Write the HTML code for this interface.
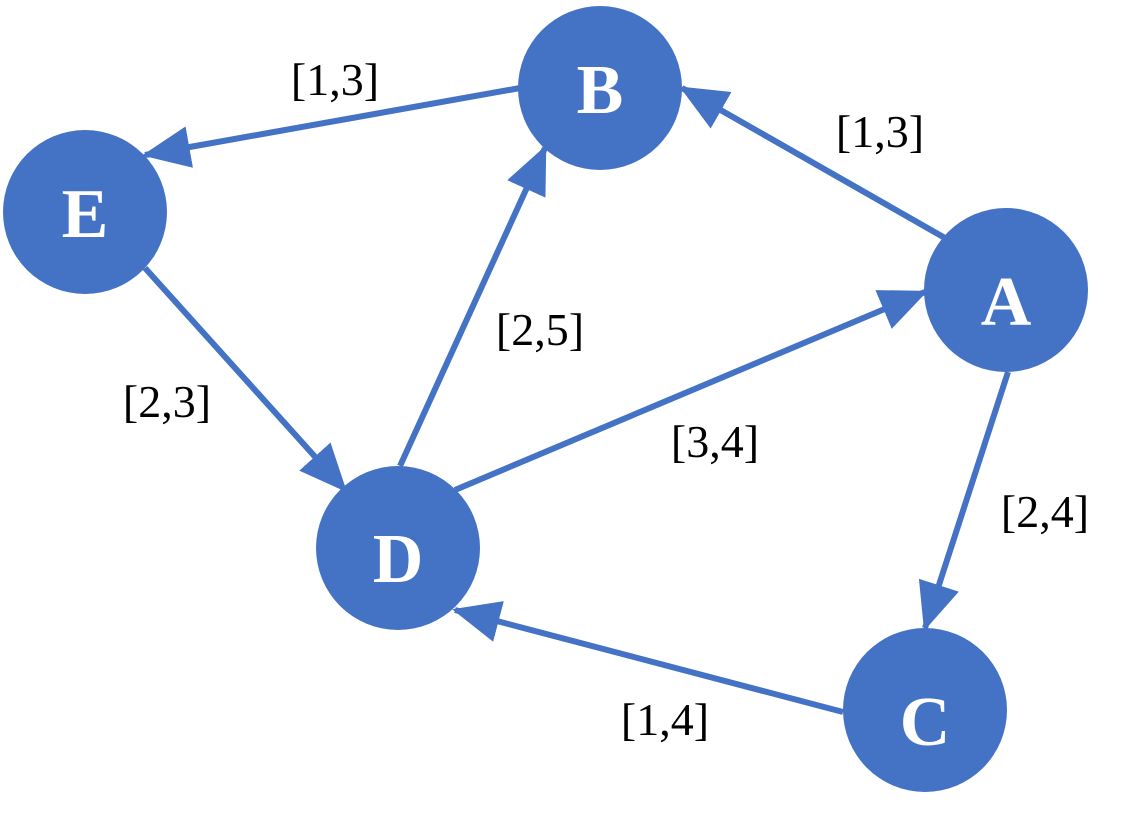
<!DOCTYPE html>
<html><head><meta charset="utf-8"><style>
html,body{margin:0;padding:0;background:#fff;}
svg{display:block;}
.l{font-family:"Liberation Serif",serif;font-size:46px;fill:#000;}
.n{font-family:"Liberation Serif",serif;font-size:70px;font-weight:bold;fill:#fff;}
</style></head><body>
<svg width="1126" height="824" viewBox="0 0 1126 824" xmlns="http://www.w3.org/2000/svg">
<defs>
<marker id="ar" markerWidth="8" markerHeight="7" refX="7.5" refY="3.5" orient="auto" markerUnits="strokeWidth">
<path d="M0,0 L8,3.5 L0,7 z" fill="#4472C4"/>
</marker>
</defs>
<g stroke="#4472C4" stroke-width="6" fill="none" marker-end="url(#ar)">
<line x1="520" y1="88" x2="145" y2="155"/>
<line x1="945" y1="238" x2="682" y2="88"/>
<line x1="400" y1="466" x2="545" y2="148"/>
<line x1="145" y1="268" x2="345" y2="490"/>
<line x1="455" y1="490" x2="925" y2="292"/>
<line x1="1008" y1="372" x2="925" y2="628"/>
<line x1="843" y1="712" x2="455" y2="610"/>
</g>
<g fill="#4472C4">
<circle cx="600" cy="88" r="82"/>
<circle cx="85" cy="212" r="82"/>
<circle cx="1006" cy="290" r="82"/>
<circle cx="398" cy="548" r="82"/>
<circle cx="925" cy="710" r="82"/>
</g>
<g class="n" text-anchor="middle">
<text x="600" y="113">B</text>
<text x="85" y="237">E</text>
<text x="1006" y="325">A</text>
<text x="398" y="582">D</text>
<text x="925" y="745">C</text>
</g>
<g class="l" text-anchor="middle">
<text x="335" y="95">[1,3]</text>
<text x="880" y="147">[1,3]</text>
<text x="540" y="345">[2,5]</text>
<text x="167" y="417">[2,3]</text>
<text x="715" y="457">[3,4]</text>
<text x="1045" y="527">[2,4]</text>
<text x="665" y="735">[1,4]</text>
</g>
</svg>
</body></html>
